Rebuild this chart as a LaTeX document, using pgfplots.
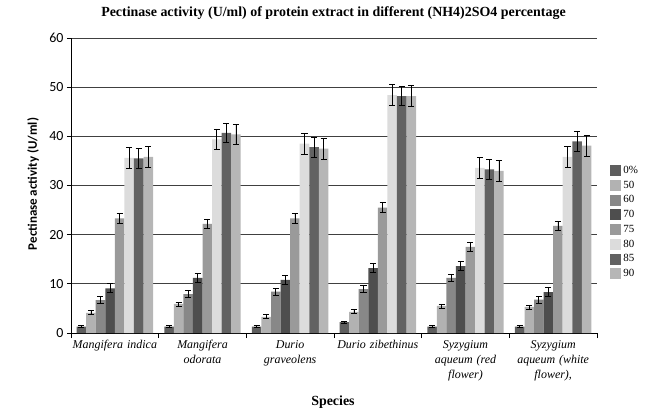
\documentclass[border=0pt]{standalone}
\usepackage{fontspec}
\setmainfont{Liberation Serif}
\setsansfont{Carlito}
\usepackage{pgfplots}
\pgfplotsset{compat=1.18}
\usepackage{pgfplotstable}
\definecolor{c0}{HTML}{5E5E5E}
\definecolor{c50}{HTML}{B2B2B2}
\definecolor{c60}{HTML}{888888}
\definecolor{c70}{HTML}{4E4E4E}
\definecolor{c75}{HTML}{9A9A9A}
\definecolor{c80}{HTML}{DCDCDC}
\definecolor{c85}{HTML}{626262}
\definecolor{c90}{HTML}{B6B6B6}
\pgfplotstableread{
x a ea b eb c ec d ed e ee f ef g eg h eh
0 1.3 0.2 4.1 0.4 6.7 0.7 9.1 0.9 23.3 1.0 35.6 2.1 35.5 2.0 35.8 2.1
1 1.3 0.2 5.9 0.4 7.9 0.7 11.2 0.9 22.2 1.0 39.4 2.1 40.7 2.0 40.4 2.1
2 1.3 0.2 3.3 0.4 8.4 0.7 10.8 0.9 23.3 1.0 38.5 2.1 37.8 2.0 37.5 2.1
3 2.2 0.2 4.3 0.4 8.9 0.7 13.2 0.9 25.5 1.0 48.4 2.1 48.2 2.0 48.2 2.1
4 1.3 0.2 5.5 0.4 11.2 0.7 13.6 0.9 17.5 1.0 33.6 2.1 33.3 2.0 33.0 2.1
5 1.3 0.2 5.3 0.4 6.8 0.7 8.3 0.9 21.8 1.0 35.8 2.1 39.0 2.0 38.1 2.1
}\data
\pgfplotsset{
  mybar/.style={fill=#1, draw=none,
    error bars/.cd, y dir=both, y explicit,
    error mark options={black, rotate=90, mark size=3bp, line width=0.8bp},
    error bar style={black, line width=0.8bp}}
}
\begin{document}
\begin{tikzpicture}
\useasboundingbox (-71bp,-86bp) rectangle (581bp,333bp);
\begin{axis}[
  at={(0,0)}, anchor=south west, scale only axis,
  width=526bp, height=295bp,
  ybar=0pt, bar width=0.109,
  xmin=-0.5, xmax=5.5, ymin=0, ymax=60,
  ytick={0,10,...,60},
  axis x line*=bottom, axis y line*=left,
  axis line style={black, line width=0.8bp},
  ymajorgrids, grid style={black!75, line width=0.9bp},
  tick align=outside,
  major tick length=4bp, minor tick length=5bp,
  tick style={black, line width=0.8bp},
  xtick={0,...,5},
  xticklabels={Mangifera indica, Mangifera\\odorata, Durio\\graveolens, Durio zibethinus, Syzygium\\aqueum (red\\flower), {Syzygium\\aqueum (white\\flower),}},
  major x tick style={draw=none},
  minor xtick={-0.5,0.5,...,5.5},
  x tick label style={font=\itshape\fontsize{12}{15}\selectfont, align=center, text width=88bp},
  y tick label style={font=\sffamily\fontsize{14}{14}\selectfont},
  /pgf/number format/assume math mode=true,
  xlabel={Species},
  xlabel style={at={(axis description cs:0.498,-0.235)}, anchor=center, font=\bfseries\fontsize{14}{16}\selectfont},
  ylabel={Pectinase activity (U/ml)},
  ylabel style={at={(axis description cs:-0.072,0.505)}, anchor=center, font=\sffamily\bfseries\fontsize{13}{14}\selectfont},
  title={Pectinase activity (U/ml) of protein extract in different (NH4)2SO4 percentage},
  title style={at={(axis description cs:0.499,1.064)}, anchor=center, font=\bfseries\fontsize{14}{16}\selectfont},
  legend style={at={(axis description cs:1.025,0.573)}, anchor=north west, draw=none, fill=none, font=\fontsize{11}{12}\selectfont, row sep=2bp, inner sep=0pt},
  legend cell align=left,
  legend image code/.code={\fill[#1] (0bp,-5.5bp) rectangle (11bp,5.5bp);},
]
\addplot[mybar=c0] table[x=x, y=a, y error=ea] {\data};
\addplot[mybar=c50] table[x=x, y=b, y error=eb] {\data};
\addplot[mybar=c60] table[x=x, y=c, y error=ec] {\data};
\addplot[mybar=c70] table[x=x, y=d, y error=ed] {\data};
\addplot[mybar=c75] table[x=x, y=e, y error=ee] {\data};
\addplot[mybar=c80] table[x=x, y=f, y error=ef] {\data};
\addplot[mybar=c85] table[x=x, y=g, y error=eg] {\data};
\addplot[mybar=c90] table[x=x, y=h, y error=eh] {\data};
\legend{0\%,50,60,70,75,80,85,90}
\end{axis}
\end{tikzpicture}
\end{document}
